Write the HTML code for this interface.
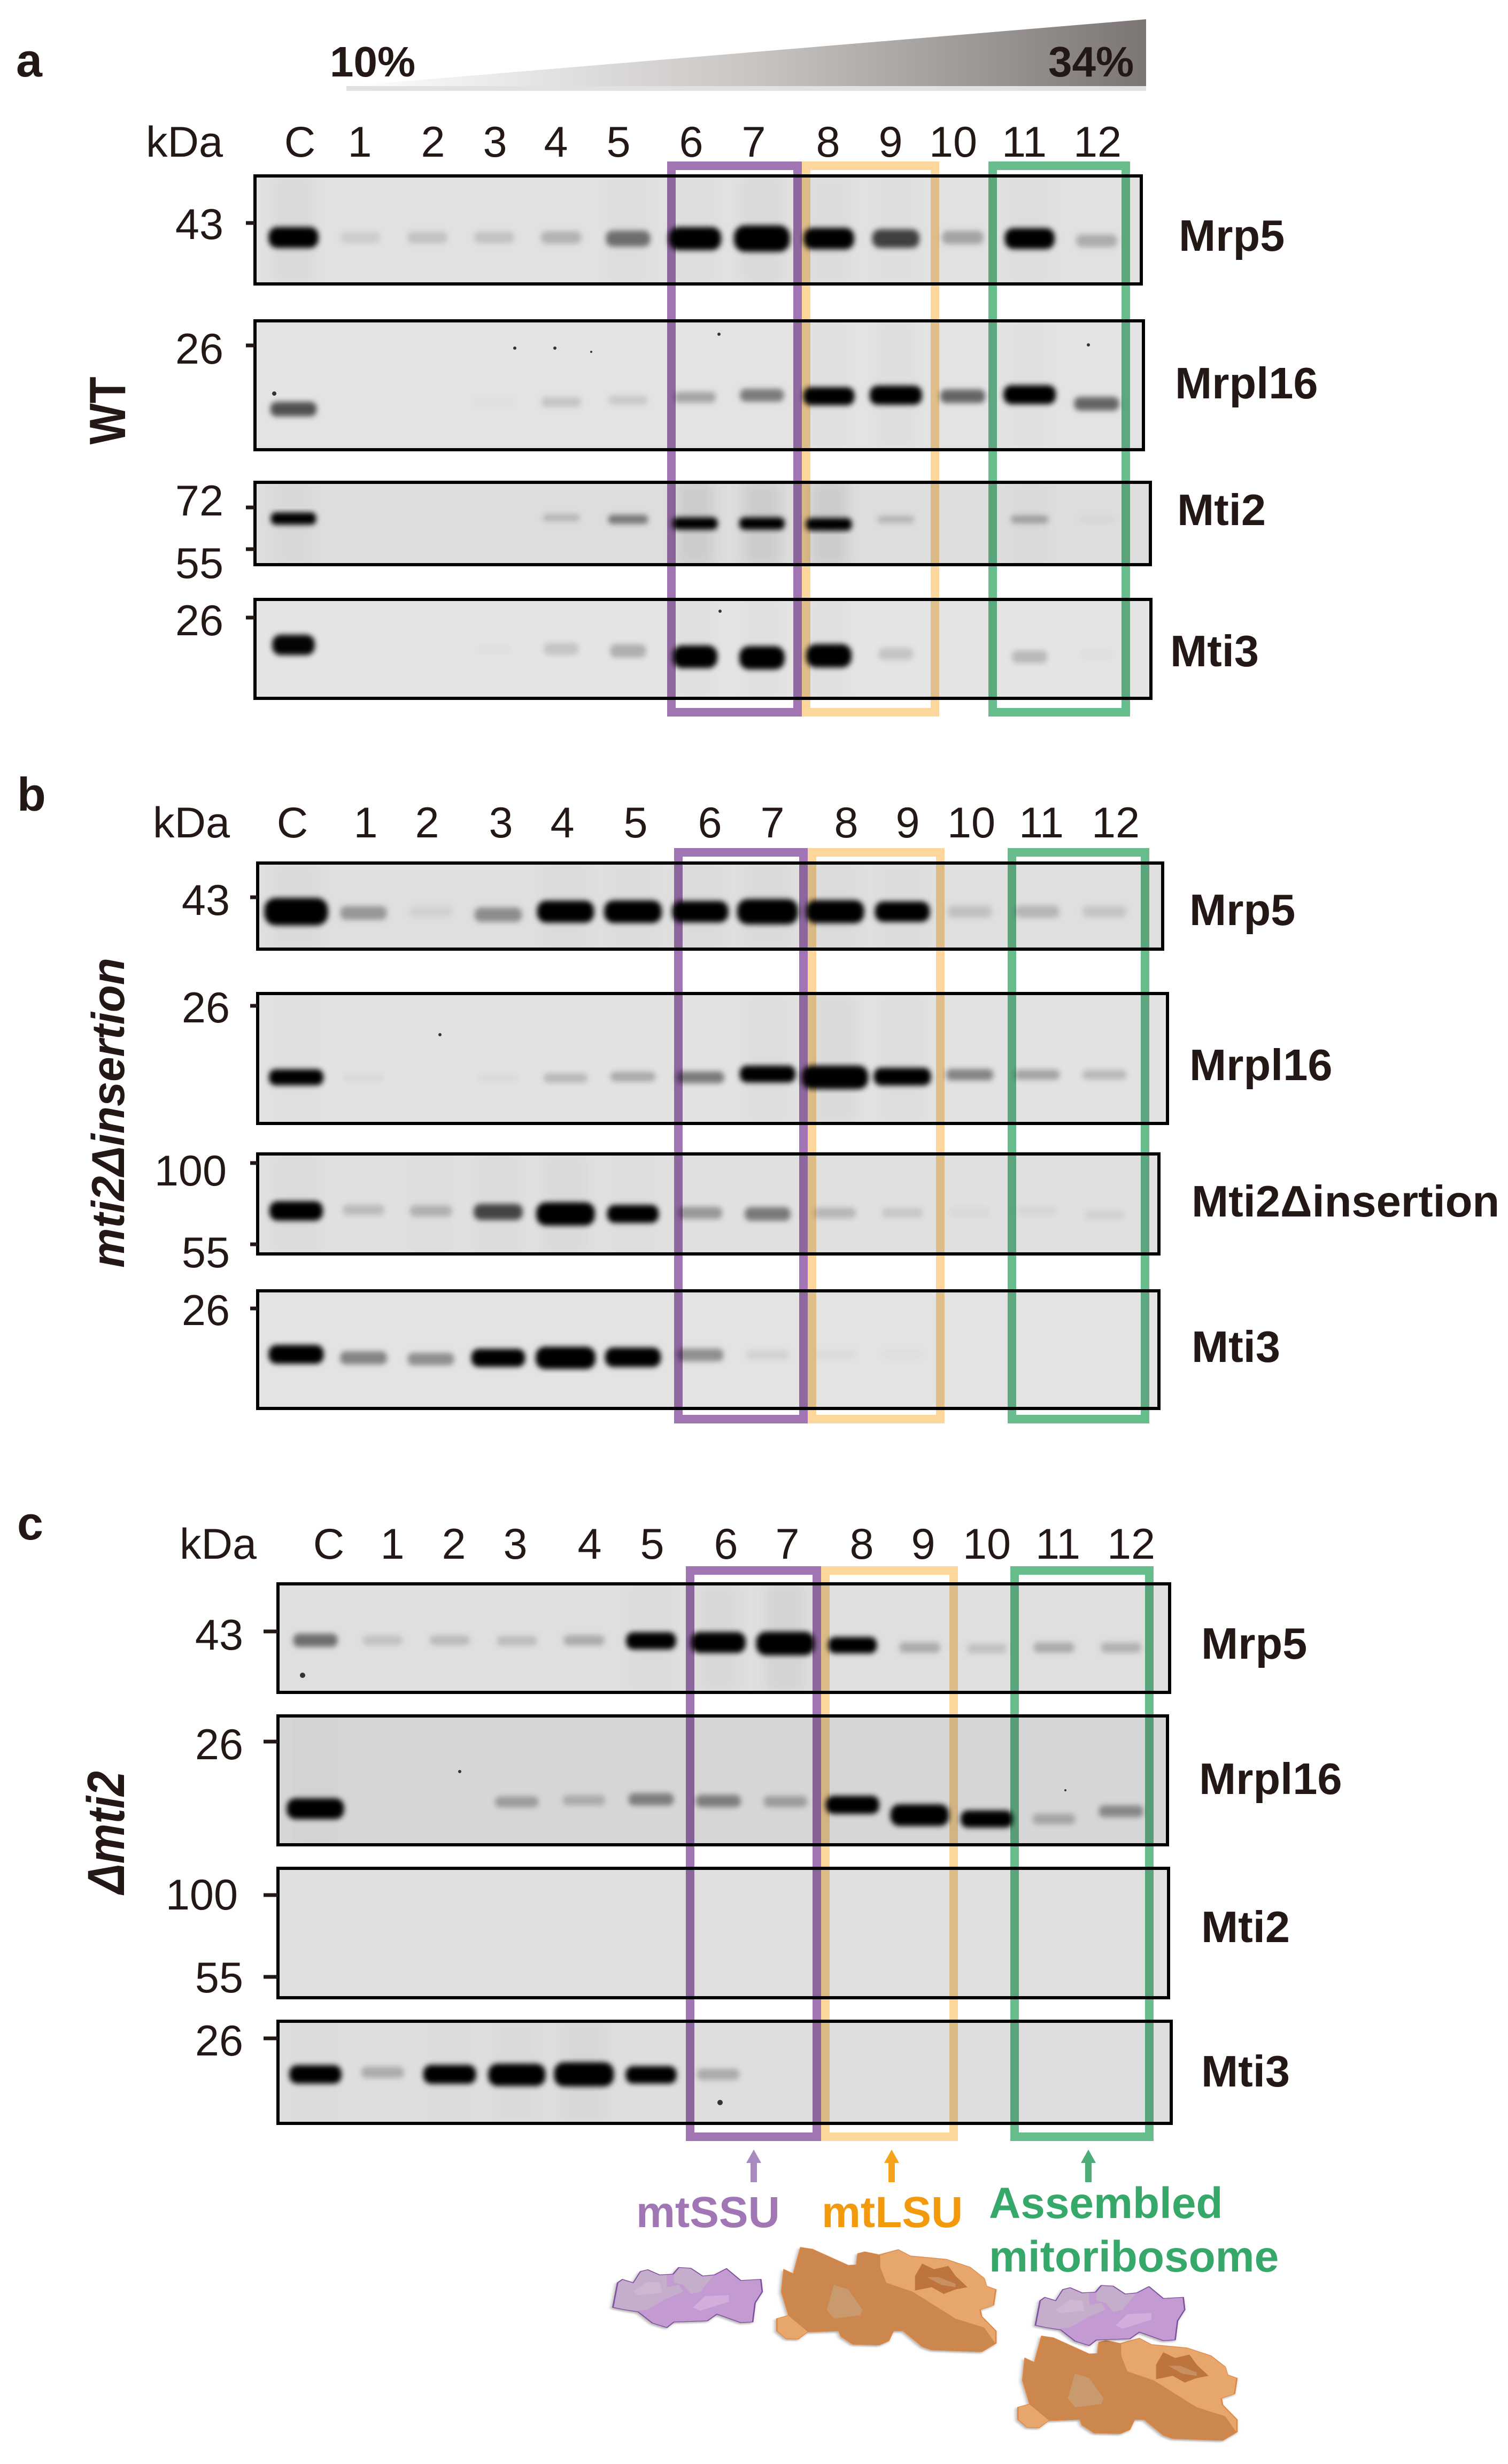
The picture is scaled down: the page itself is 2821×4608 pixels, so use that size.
<!DOCTYPE html>
<html lang="en">
<head>
<meta charset="utf-8">
<title>Sucrose gradient western blots</title>
<style>
html,body{margin:0;padding:0;background:#fff;}
svg{display:block;}
text{font-family:"Liberation Sans","DejaVu Sans",sans-serif;fill:#231815;}
.lane,.tick-label{font-size:81px;}
.lane{text-anchor:middle;}
.tick-label{text-anchor:end;}
.protein{font-size:83px;font-weight:bold;}
.panel{font-size:88px;font-weight:bold;}
.strain{font-weight:bold;text-anchor:middle;}
.tick{stroke:#231815;stroke-width:7;}
.frame{fill:none;stroke:#000;stroke-width:6;}
.box{fill:none;stroke-width:16;mix-blend-mode:multiply;}
.speck{fill:#333;}
</style>
</head>
<body>
<svg id="figure" xmlns="http://www.w3.org/2000/svg" width="2821" height="4608" viewBox="0 0 2821 4608">
<defs>
<linearGradient id="grad" x1="0" x2="1" y1="0" y2="0"><stop offset="0" stop-color="#ffffff"/><stop offset="0.5" stop-color="#c9c6c4"/><stop offset="1" stop-color="#7b7674"/></linearGradient>
<filter id="band-blur" x="-5%" y="-20%" width="110%" height="140%"><feGaussianBlur stdDeviation="5"/></filter>
<filter id="smear-blur" x="-5%" y="-20%" width="110%" height="140%"><feGaussianBlur stdDeviation="12"/></filter>
<filter id="shadow" x="-10%" y="-10%" width="125%" height="125%"><feDropShadow dx="-3" dy="6" stdDeviation="4" flood-color="#000" flood-opacity="0.3"/></filter>
<g id="ssu-shape">
<polygon fill="#c49ad2" stroke="#7e4f9d" stroke-width="3" stroke-linejoin="round" points="52,870 62,760 72,745 95,760 110,710 125,702 150,725 178,722 190,692 215,695 240,730 265,725 290,697 320,750 362,745 365,800 350,850 345,935 320,938 270,900 250,930 180,935 165,960 135,940 105,890 75,880"/>
<polygon fill="#c4aecb" points="55,868 64,762 72,748 95,763 110,713 125,705 150,728 165,725 165,780 190,770 200,800 165,830 125,880 100,885 75,878"/>
<polygon fill="#c4aecb" points="180,725 192,695 215,698 240,733 262,730 235,800 215,810 200,770 180,760"/>
<polygon fill="#cdb8d2" points="125,755 150,760 155,805 105,815 95,800"/>
<polygon fill="#d3aedd" points="245,820 295,815 295,845 235,885 220,870"/>
</g>
<g id="lsu-shape">
<polygon fill="#cc8750" stroke="#e8873f" stroke-width="2" stroke-linejoin="round" points="445,602 470,610 545,682 562,680 565,630 580,622 610,635 650,612 675,640 750,655 800,690 830,740 835,775 855,790 850,860 822,880 825,910 855,975 855,1030 825,1068 720,1060 700,1045 660,975 640,975 630,1020 610,1038 555,1035 530,1000 525,975 460,980 440,1012 415,1010 395,975 395,920 420,905 405,800 410,700 430,720"/>
<polygon fill="#e7a76c" points="612,637 650,614 675,642 750,657 800,692 830,742 835,777 853,790 848,860 820,880 823,910 853,975 853,1030 830,960 770,920 680,800 625,760 612,690"/>
<polygon fill="#e7a76c" points="397,975 397,920 420,907 460,978 440,1010 415,1008"/>
<polygon fill="#c99a6e" points="515,770 545,790 575,880 570,905 515,920 500,880"/>
<polygon fill="#bd743e" points="700,675 725,700 755,685 770,730 795,780 770,790 745,810 720,780 685,795 685,730"/>
<polygon fill="#c98f60" points="710,735 735,735 770,765 770,780 740,770"/>
</g>
</defs>

<rect x="0" y="0" width="2821" height="4608" fill="#ffffff"/>

<!-- Panel a header -->
<text class="panel" x="30" y="143">a</text>
<polygon points="648,161 2144,36 2144,161" fill="url(#grad)"/>
<rect x="648" y="161" width="1496" height="9" fill="#e2e1e0"/>
<text x="617" y="143" font-size="80" font-weight="bold">10%</text>
<text x="1961" y="143" font-size="80" font-weight="bold">34%</text>

<g>
<text class="lane" x="345" y="293">kDa</text>
<text class="lane" x="561" y="293">C</text>
<text class="lane" x="673" y="293">1</text>
<text class="lane" x="810" y="293">2</text>
<text class="lane" x="926" y="293">3</text>
<text class="lane" x="1040" y="293">4</text>
<text class="lane" x="1157" y="293">5</text>
<text class="lane" x="1293" y="293">6</text>
<text class="lane" x="1410" y="293">7</text>
<text class="lane" x="1549" y="293">8</text>
<text class="lane" x="1666" y="293">9</text>
<text class="lane" x="1783" y="293">10</text>
<text class="lane" x="1916" y="293">11</text>
<text class="lane" x="2053" y="293">12</text>
</g>

<g>
<text class="lane" x="358" y="1566">kDa</text>
<text class="lane" x="547" y="1566">C</text>
<text class="lane" x="684" y="1566">1</text>
<text class="lane" x="799" y="1566">2</text>
<text class="lane" x="937" y="1566">3</text>
<text class="lane" x="1052" y="1566">4</text>
<text class="lane" x="1189" y="1566">5</text>
<text class="lane" x="1328" y="1566">6</text>
<text class="lane" x="1445" y="1566">7</text>
<text class="lane" x="1583" y="1566">8</text>
<text class="lane" x="1698" y="1566">9</text>
<text class="lane" x="1817" y="1566">10</text>
<text class="lane" x="1948" y="1566">11</text>
<text class="lane" x="2087" y="1566">12</text>
</g>

<g>
<text class="lane" x="408" y="2915">kDa</text>
<text class="lane" x="615" y="2915">C</text>
<text class="lane" x="734" y="2915">1</text>
<text class="lane" x="849" y="2915">2</text>
<text class="lane" x="964" y="2915">3</text>
<text class="lane" x="1103" y="2915">4</text>
<text class="lane" x="1220" y="2915">5</text>
<text class="lane" x="1358" y="2915">6</text>
<text class="lane" x="1473" y="2915">7</text>
<text class="lane" x="1612" y="2915">8</text>
<text class="lane" x="1727" y="2915">9</text>
<text class="lane" x="1846" y="2915">10</text>
<text class="lane" x="1979" y="2915">11</text>
<text class="lane" x="2116" y="2915">12</text>
</g>

<text class="panel" x="32" y="1516">b</text>
<text class="panel" x="32" y="2879">c</text>

<text class="strain" style="font-size:96px" transform="translate(234,768) rotate(-90) scale(0.85,1)">WT</text>
<text class="strain" font-style="italic" style="font-size:86px" transform="translate(232,2081) rotate(-90) scale(0.97,1)">mti2Δinsertion</text>
<text class="strain" font-style="italic" style="font-size:98px" transform="translate(232,3427) rotate(-90) scale(0.86,1)">Δmti2</text>

<!-- Blot backgrounds: bands are inserted after each by the script -->
<g id="blots">
<rect id="a-mrp5" x="477" y="329" width="1658" height="202" fill="#e1e1e1"/>
<rect id="a-mrpl16" x="477" y="600" width="1662" height="241" fill="#e3e3e3"/>
<rect id="a-mti2" x="477" y="902" width="1675" height="154" fill="#dddddd"/>
<rect id="a-mti3" x="477" y="1121" width="1676" height="185" fill="#e4e4e4"/>
<rect id="b-mrp5" x="482" y="1614" width="1693" height="161" fill="#dfdfdf"/>
<rect id="b-mrpl16" x="482" y="1858" width="1702" height="243" fill="#e2e2e2"/>
<rect id="b-mti2" x="482" y="2158" width="1686" height="187" fill="#e0e0e0"/>
<rect id="b-mti3" x="482" y="2414" width="1686" height="220" fill="#e3e3e3"/>
<rect id="c-mrp5" x="520" y="2962" width="1668" height="203" fill="#dfdfdf"/>
<rect id="c-mrpl16" x="520" y="3209" width="1664" height="241" fill="#d6d6d6"/>
<rect id="c-mti2" x="520" y="3494" width="1666" height="242" fill="#dfdfdf"/>
<rect id="c-mti3" x="520" y="3780" width="1671" height="191" fill="#dedede"/>
</g>

<g id="bands"></g>

<g>
<circle class="speck" cx="1038" cy="651" r="3"/>
<circle class="speck" cx="963" cy="651" r="3"/>
<circle class="speck" cx="1106" cy="658" r="2"/>
<circle class="speck" cx="1345" cy="625" r="3"/>
<circle class="speck" cx="2036" cy="645" r="3"/>
<circle class="speck" cx="513" cy="736" r="4"/>
<circle class="speck" cx="1347" cy="1143" r="3"/>
<circle class="speck" cx="823" cy="1935" r="3"/>
<circle class="speck" cx="566" cy="3133" r="5"/>
<circle class="speck" cx="860" cy="3313" r="3"/>
<circle class="speck" cx="1347" cy="3932" r="5"/>
<circle class="speck" cx="1993" cy="3348" r="2"/>
</g>

<g>
<rect class="frame" x="477" y="329" width="1658" height="202"/>
<rect class="frame" x="477" y="600" width="1662" height="241"/>
<rect class="frame" x="477" y="902" width="1675" height="154"/>
<rect class="frame" x="477" y="1121" width="1676" height="185"/>
<rect class="frame" x="482" y="1614" width="1693" height="161"/>
<rect class="frame" x="482" y="1858" width="1702" height="243"/>
<rect class="frame" x="482" y="2158" width="1686" height="187"/>
<rect class="frame" x="482" y="2414" width="1686" height="220"/>
<rect class="frame" x="520" y="2962" width="1668" height="203"/>
<rect class="frame" x="520" y="3209" width="1664" height="241"/>
<rect class="frame" x="520" y="3494" width="1666" height="242"/>
<rect class="frame" x="520" y="3780" width="1671" height="191"/>
</g>

<!-- kDa ticks and labels -->
<g>
<line class="tick" x1="460" x2="477" y1="417" y2="417"/>
<line class="tick" x1="460" x2="477" y1="646" y2="646"/>
<line class="tick" x1="460" x2="477" y1="949" y2="949"/>
<line class="tick" x1="460" x2="477" y1="1027" y2="1027"/>
<line class="tick" x1="460" x2="477" y1="1155" y2="1155"/>
<line class="tick" x1="468" x2="482" y1="1678" y2="1678"/>
<line class="tick" x1="468" x2="482" y1="1881" y2="1881"/>
<line class="tick" x1="468" x2="482" y1="2175" y2="2175"/>
<line class="tick" x1="468" x2="482" y1="2327" y2="2327"/>
<line class="tick" x1="468" x2="482" y1="2447" y2="2447"/>
<line class="tick" x1="493" x2="520" y1="3051" y2="3051"/>
<line class="tick" x1="493" x2="520" y1="3257" y2="3257"/>
<line class="tick" x1="493" x2="520" y1="3544" y2="3544"/>
<line class="tick" x1="493" x2="520" y1="3697" y2="3697"/>
<line class="tick" x1="493" x2="520" y1="3812" y2="3812"/>
</g>
<g>
<text class="tick-label" x="418" y="447">43</text>
<text class="tick-label" x="418" y="680">26</text>
<text class="tick-label" x="418" y="964">72</text>
<text class="tick-label" x="418" y="1081">55</text>
<text class="tick-label" x="418" y="1188">26</text>
<text class="tick-label" x="430" y="1711">43</text>
<text class="tick-label" x="430" y="1912">26</text>
<text class="tick-label" x="424" y="2217">100</text>
<text class="tick-label" x="430" y="2370">55</text>
<text class="tick-label" x="430" y="2478">26</text>
<text class="tick-label" x="455" y="3085">43</text>
<text class="tick-label" x="455" y="3290">26</text>
<text class="tick-label" x="445" y="3571">100</text>
<text class="tick-label" x="455" y="3726">55</text>
<text class="tick-label" x="455" y="3844">26</text>
</g>

<!-- Protein labels -->
<g>
<text class="protein" x="2205" y="469">Mrp5</text>
<text class="protein" x="2198" y="745">Mrpl16</text>
<text class="protein" x="2202" y="982">Mti2</text>
<text class="protein" x="2189" y="1246">Mti3</text>
<text class="protein" x="2225" y="1730">Mrp5</text>
<text class="protein" x="2225" y="2020">Mrpl16</text>
<text class="protein" x="2229" y="2275">Mti2Δinsertion</text>
<text class="protein" x="2229" y="2547">Mti3</text>
<text class="protein" x="2247" y="3102">Mrp5</text>
<text class="protein" x="2243" y="3355">Mrpl16</text>
<text class="protein" x="2247" y="3632">Mti2</text>
<text class="protein" x="2247" y="3902">Mti3</text>
</g>

<!-- Highlight boxes -->
<g>
<rect class="box" x="1256" y="310" width="236" height="1022" stroke="#a175b4"/>
<rect class="box" x="1508" y="310" width="241" height="1022" stroke="#fcd69a"/>
<rect class="box" x="1857" y="310" width="249" height="1022" stroke="#68bd8d"/>
<rect class="box" x="1269" y="1594" width="234" height="1060" stroke="#a175b4"/>
<rect class="box" x="1519" y="1594" width="240" height="1060" stroke="#fcd69a"/>
<rect class="box" x="1893" y="1594" width="249" height="1060" stroke="#68bd8d"/>
<rect class="box" x="1291" y="2937" width="237" height="1059" stroke="#a175b4"/>
<rect class="box" x="1544" y="2937" width="240" height="1059" stroke="#fcd69a"/>
<rect class="box" x="1898" y="2937" width="252" height="1059" stroke="#68bd8d"/>
</g>

<!-- Arrows and subunit annotations -->
<g>
<polygon fill="#a98abf" points="1410,4020 1424,4045 1416,4045 1416,4081 1404,4081 1404,4045 1396,4045"/>
<polygon fill="#f5a31a" points="1668,4020 1682,4045 1674,4045 1674,4081 1662,4081 1662,4045 1654,4045"/>
<polygon fill="#4bae78" points="2036,4020 2050,4045 2042,4045 2042,4081 2030,4081 2030,4045 2022,4045"/>
</g>
<text x="1190" y="4165" font-size="82" font-weight="bold" style="fill:#a076b5">mtSSU</text>
<text x="1537" y="4165" font-size="82" font-weight="bold" style="fill:#f39a0c">mtLSU</text>
<text x="1850" y="4148" font-size="82" font-weight="bold" style="fill:#36a869">Assembled</text>
<text x="1850" y="4248" font-size="82" font-weight="bold" style="fill:#36a869">mitoribosome</text>

<g transform="translate(1100,3950) scale(0.893,0.4197)">
<use href="#ssu-shape" filter="url(#shadow)"/>
<use href="#lsu-shape" filter="url(#shadow)"/>
<use href="#lsu-shape" x="505" y="395" filter="url(#shadow)"/>
<use href="#ssu-shape" x="885" y="80" filter="url(#shadow)"/>
</g>
</svg>

<script>
// Lane categories, left to right: control then gradient fractions
const laneCategories = ['C','1','2','3','4','5','6','7','8','9','10','11','12'];

// Band signal per lane (0 = no signal, 1 = just saturated, above 1 = overloaded and spreading)
const aMrp5Intensity   = [1.0,0.10,0.15,0.15,0.22,0.55,1.2,1.5,1.05,0.78,0.30,1.0,0.25];
const aMrpl16Intensity = [0.70,0,0,0.02,0.15,0.12,0.30,0.50,1.1,1.2,0.60,1.2,0.60];
const aMti2Intensity   = [1.0,0,0,0,0.20,0.50,1,1,1.05,0.20,0,0.30,0.03];
const aMti3Intensity   = [0.85,0,0,0.02,0.15,0.25,1.05,1.1,1.1,0.15,0,0.20,0.02];
const bMrp5Intensity   = [1.6,0.35,0.07,0.40,1.1,1.15,1.05,1.4,1.2,0.95,0.15,0.20,0.13];
const bMrpl16Intensity = [1.0,0.04,0,0.03,0.20,0.27,0.50,1.1,1.9,1.2,0.45,0.30,0.20];
const bMti2Intensity   = [1.1,0.18,0.22,0.75,1.5,0.95,0.35,0.50,0.20,0.12,0.04,0.05,0.07];
const bMti3Intensity   = [1.05,0.45,0.40,0.95,1.4,1.1,0.40,0.08,0.04,0.02,0,0,0];
const cMrp5Intensity   = [0.55,0.15,0.18,0.17,0.25,1.0,1.4,1.7,0.90,0.25,0.15,0.25,0.22];
const cMrpl16Intensity = [1.4,0,0,0.30,0.22,0.45,0.45,0.30,1.1,1.5,1.0,0.25,0.40];
const cMti2Intensity   = [0,0,0,0,0,0,0,0,0,0,0,0,0];
const cMti3Intensity   = [1.0,0.25,1.05,1.4,1.6,0.90,0.25,0,0,0,0,0,0];

// Relative mobility per lane (0 = top of blot, 1 = bottom of blot)
const aMrp5Mobility   = [0.57,0.57,0.57,0.57,0.57,0.58,0.58,0.58,0.58,0.58,0.57,0.58,0.60];
const aMrpl16Mobility = [0.685,0.63,0.63,0.63,0.63,0.615,0.593,0.577,0.585,0.577,0.585,0.573,0.643];
const aMti2Mobility   = [0.44,0.44,0.44,0.44,0.43,0.45,0.50,0.50,0.51,0.45,0.45,0.45,0.45];
const aMti3Mobility   = [0.46,0.5,0.5,0.5,0.50,0.52,0.58,0.59,0.57,0.55,0.55,0.58,0.55];
const bMrp5Mobility   = [0.565,0.58,0.565,0.60,0.565,0.565,0.565,0.565,0.565,0.565,0.565,0.565,0.565];
const bMrpl16Mobility = [0.645,0.65,0.64,0.65,0.65,0.64,0.645,0.62,0.645,0.64,0.625,0.625,0.625];
const bMti2Mobility   = [0.57,0.56,0.57,0.58,0.60,0.60,0.59,0.60,0.59,0.59,0.58,0.57,0.61];
const bMti3Mobility   = [0.54,0.57,0.58,0.57,0.57,0.565,0.545,0.545,0.54,0.54,0.54,0.54,0.54];
const cMrp5Mobility   = [0.52,0.52,0.52,0.525,0.52,0.525,0.54,0.55,0.565,0.587,0.596,0.587,0.587];
const cMrpl16Mobility = [0.72,0.70,0.70,0.667,0.655,0.647,0.66,0.665,0.69,0.77,0.80,0.80,0.74];
const cMti2Mobility   = [0.5,0.5,0.5,0.5,0.5,0.5,0.5,0.5,0.5,0.5,0.5,0.5,0.5];
const cMti3Mobility   = [0.52,0.50,0.52,0.525,0.52,0.525,0.52,0.5,0.5,0.5,0.5,0.5,0.5];

// Background lane smear per lane (faint darkening over the full lane height)
const aMrp5Smear   = [0.03,0,0,0,0,0.015,0.015,0.035,0.02,0.01,0,0.015,0];
const aMrpl16Smear = [0,0,0,0,0,0,0,0,0.012,0.02,0,0.012,0];
const aMti2Smear   = [0.02,0,0,0,0,0,0.08,0.08,0.08,0,0,0.015,0];
const aMti3Smear   = [0,0,0,0,0,0,0.02,0.02,0.02,0,0,0,0];
const bMrp5Smear   = [0.02,0,0,0,0.015,0.01,0.015,0.02,0.015,0.01,0,0,0];
const bMrpl16Smear = [0.01,0,0,0,0,0,0,0.02,0.03,0.02,0,0,0];
const bMti2Smear   = [0.025,0,0.012,0.02,0.03,0.012,0,0,0,0,0,0,0];
const bMti3Smear   = [0,0,0,0,0,0,0,0,0,0,0,0,0];
const cMrp5Smear   = [0,0,0,0,0,0.02,0.03,0.05,0,0,0,0,0];
const cMrpl16Smear = [0.015,0,0,0,0,0,0,0,0,0,0,0,0];
const cMti2Smear   = [0,0,0,0,0,0,0,0,0,0,0,0,0];
const cMti3Smear   = [0.01,0,0.01,0.02,0.03,0,0,0,0,0,0,0,0];

const SVG_NS = 'http://www.w3.org/2000/svg';
const bandsLayer = document.getElementById('bands');
const defsEl = document.querySelector('defs');

function makeLaneScale(firstLaneX, laneStep) {
  return function (laneIndex) { return firstLaneX + laneIndex * laneStep; };
}
function makeMobilityScale(frameTop, frameHeight) {
  return function (mobility) { return frameTop + mobility * frameHeight; };
}
const laneXA = makeLaneScale(549, 125.2);
const laneXB = makeLaneScale(554, 126);
const laneXC = makeLaneScale(590, 125.6);

function drawBlot(blotId, laneX, intensity, mobility, smear, bandWidth, bandHeight) {
  const frame = document.getElementById(blotId);
  const top = +frame.getAttribute('y');
  const height = +frame.getAttribute('height');
  const yScale = makeMobilityScale(top, height);

  const clip = document.createElementNS(SVG_NS, 'clipPath');
  clip.id = 'clip-' + blotId;
  const clipRect = document.createElementNS(SVG_NS, 'rect');
  clipRect.setAttribute('x', frame.getAttribute('x'));
  clipRect.setAttribute('y', top);
  clipRect.setAttribute('width', frame.getAttribute('width'));
  clipRect.setAttribute('height', height);
  clip.appendChild(clipRect);
  defsEl.appendChild(clip);

  const group = document.createElementNS(SVG_NS, 'g');
  group.setAttribute('clip-path', 'url(#clip-' + blotId + ')');
  
  
  const smearGroup = document.createElementNS(SVG_NS, 'g');
  smearGroup.setAttribute('filter', 'url(#smear-blur)');
  const bandGroup = document.createElementNS(SVG_NS, 'g');
  bandGroup.setAttribute('filter', 'url(#band-blur)');
  group.appendChild(smearGroup);
  group.appendChild(bandGroup);

  laneCategories.forEach(function (lane, i) {
    const x = laneX(i);
    if (smear[i] > 0) {
      const s = document.createElementNS(SVG_NS, 'rect');
      
      
      s.setAttribute('x', x - bandWidth * 0.42);
      s.setAttribute('y', top);
      s.setAttribute('width', bandWidth * 0.84);
      s.setAttribute('height', height);
      s.setAttribute('fill', '#000');
      s.setAttribute('opacity', smear[i]);
      smearGroup.appendChild(s);
    }
    const value = intensity[i];
    if (value > 0) {
      const w = bandWidth * (0.8 + 0.26 * value);
      const h = bandHeight * (0.55 + 0.6 * value);
      const cy = yScale(mobility[i]);
      const b = document.createElementNS(SVG_NS, 'rect');
      
      
      b.setAttribute('x', x - w / 2);
      b.setAttribute('y', cy - h / 2);
      b.setAttribute('width', w);
      b.setAttribute('height', h);
      b.setAttribute('rx', h / 2.4);
      b.setAttribute('fill', '#000');
      b.setAttribute('opacity', Math.min(1, value * 0.92 + (value > 0.8 ? 0.2 : 0)));
      bandGroup.appendChild(b);
    }
  });
  bandsLayer.appendChild(group);
}

drawBlot('a-mrp5',   laneXA, aMrp5Intensity,   aMrp5Mobility,   aMrp5Smear,   88, 34);
drawBlot('a-mrpl16', laneXA, aMrpl16Intensity, aMrpl16Mobility, aMrpl16Smear, 88, 28);
drawBlot('a-mti2',   laneXA, aMti2Intensity,   aMti2Mobility,   aMti2Smear,   80, 20);
drawBlot('a-mti3',   laneXA, aMti3Intensity,   aMti3Mobility,   aMti3Smear,   78, 36);
drawBlot('b-mrp5',   laneXB, bMrp5Intensity,   bMrp5Mobility,   bMrp5Smear,   98, 34);
drawBlot('b-mrpl16', laneXB, bMrpl16Intensity, bMrpl16Mobility, bMrpl16Smear, 96, 26);
drawBlot('b-mti2',   laneXB, bMti2Intensity,   bMti2Mobility,   bMti2Smear,   92, 30);
drawBlot('b-mti3',   laneXB, bMti3Intensity,   bMti3Mobility,   bMti3Smear,   96, 30);
drawBlot('c-mrp5',   laneXC, cMrp5Intensity,   cMrp5Mobility,   cMrp5Smear,   88, 28);
drawBlot('c-mrpl16', laneXC, cMrpl16Intensity, cMrpl16Mobility, cMrpl16Smear, 92, 28);
drawBlot('c-mti2',   laneXC, cMti2Intensity,   cMti2Mobility,   cMti2Smear,   92, 24);
drawBlot('c-mti3',   laneXC, cMti3Intensity,   cMti3Mobility,   cMti3Smear,   92, 30);
</script>
</body>
</html>
